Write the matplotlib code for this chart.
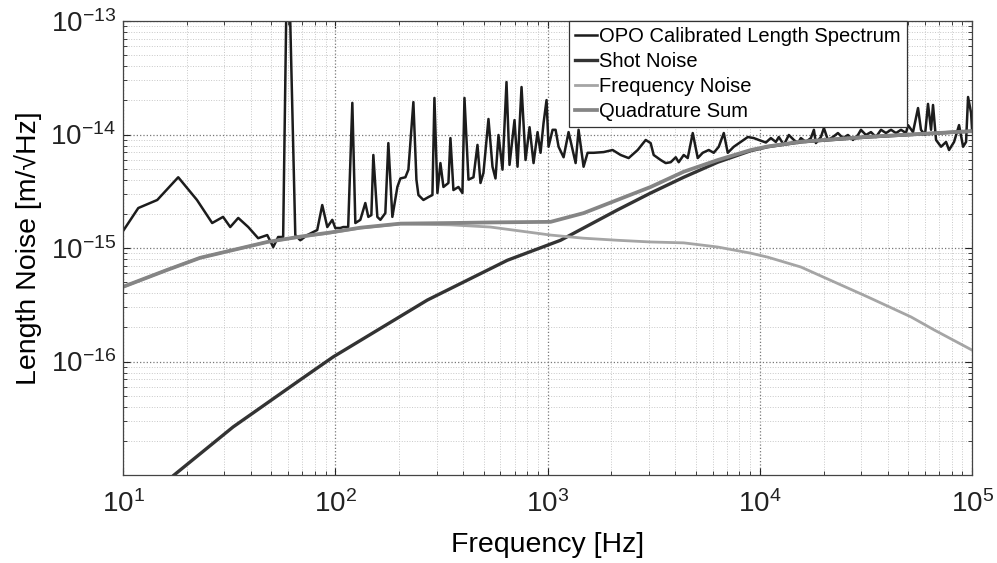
import numpy as np
import matplotlib
matplotlib.use('Agg')
import matplotlib.pyplot as plt
from matplotlib.ticker import LogLocator, NullFormatter, LogFormatterMathtext

plt.rcParams['font.family'] = ['Liberation Sans', 'DejaVu Sans']
plt.rcParams['mathtext.default'] = 'regular'

# ── data (Hz, m/sqrt(Hz)) ────────────────────────────────────────────────────
spec_f = [10.0, 11.8, 14.5, 18.2, 22.3, 26.3, 29.6, 32.0, 34.9, 38.9, 43.3, 47.8,
          51.0, 53.8, 56.8, 58.7, 61.3, 64.8, 68.4, 73.8, 82.2, 86.8, 91.7, 96.8,
          100, 105.6, 109, 115, 120.3, 124.3, 131.2, 138.5, 143.1, 147.9, 151.1,
          157.8, 163.1, 172.1, 177.8, 185.7, 196.1, 202.6, 213.9, 221, 233.3,
          241.1, 246.4, 260.1, 274.7, 286.8, 293.1, 302.8, 312.8, 323.2, 341.2,
          348.7, 360.2, 380.4, 397.2, 406, 424.1, 447.7, 467.6, 483.1, 499,
          526.8, 550.3, 568.5, 587.3, 613.4, 640.6, 661.9, 698.8, 722, 754.1,
          787.6, 822.6, 859.1, 897.2, 926.8, 957.4, 989.2, 1011, 1056, 1091,
          1127, 1190, 1256, 1356, 1400, 1478, 1544, 1648, 1837, 2026, 2210, 2410,
          2658, 2900, 3060, 3162, 3412, 3603, 3804, 4017, 4148, 4380, 4575, 4831,
          5100, 5383, 5746, 6067, 6406, 6765, 7063, 7541, 8136, 8778, 9369, 9892,
          10680, 11270, 11900, 12290, 12980, 13700, 14470, 15110, 15610, 16480,
          17400, 17980, 18370, 19400, 20040, 20930, 22100, 23330, 24640, 26010,
          27470, 29000, 29950, 31620, 33390, 35260, 37230, 39300, 41500, 43810,
          46260, 48830, 49900, 52690, 55640, 57450, 60020, 62000, 64070, 65460,
          67650, 71430, 75410, 77900, 82250, 86840, 90710, 93690, 95740, 98920,
          100000]
spec_v = [1.41e-15, 2.25e-15, 2.65e-15, 4.2e-15, 2.65e-15, 1.66e-15, 1.88e-15,
          1.53e-15, 1.84e-15, 1.53e-15, 1.22e-15, 1.30e-15, 1.02e-15, 1.25e-15,
          1.25e-15, 1.05e-13, 1.05e-13, 1.3e-15, 1.17e-15, 1.30e-15, 1.44e-15,
          2.39e-15, 1.53e-15, 1.77e-15, 1.50e-15, 1.50e-15, 1.53e-15, 1.53e-15,
          1.90e-14, 1.66e-15, 1.77e-15, 2.49e-15, 1.88e-15, 1.95e-15, 6.6e-15,
          1.88e-15, 1.77e-15, 2.03e-15, 8.4e-15, 1.88e-15, 3.45e-15, 4.1e-15,
          4.2e-15, 4.9e-15, 1.93e-14, 4.0e-15, 2.93e-15, 2.65e-15, 2.81e-15,
          2.93e-15, 2.10e-14, 3.05e-15, 5.6e-15, 3.45e-15, 3.74e-15, 9.3e-15,
          3.24e-15, 3.45e-15, 3.05e-15, 2.10e-14, 4.0e-15, 4.2e-15, 8.1e-15,
          3.74e-15, 4.6e-15, 1.37e-14, 5.2e-15, 4.1e-15, 9.9e-15, 4.9e-15,
          2.90e-14, 5.4e-15, 1.34e-14, 5.2e-15, 2.62e-14, 5.96e-15, 1.16e-14,
          5.6e-15, 1.05e-14, 6.9e-15, 1.26e-14, 2.01e-14, 7.8e-15, 1.10e-14,
          1.10e-14, 7.8e-15, 6.3e-15, 1.05e-14, 5.6e-15, 1.10e-14, 5.2e-15,
          6.9e-15, 6.9e-15, 7.0e-15, 7.3e-15, 6.6e-15, 6.2e-15, 7.3e-15, 8.95e-15,
          8.4e-15, 6.6e-15, 5.96e-15, 5.6e-15, 5.7e-15, 6.3e-15, 5.7e-15, 6.6e-15,
          6.2e-15, 1.03e-14, 6.2e-15, 6.9e-15, 7.3e-15, 6.9e-15, 7.8e-15, 1.03e-14,
          6.9e-15, 7.8e-15, 8.6e-15, 9.5e-15, 9.3e-15, 8.95e-15, 8.5e-15, 9.3e-15,
          8.6e-15, 9.5e-15, 8.1e-15, 9.9e-15, 8.95e-15, 8.4e-15, 9.3e-15, 8.6e-15,
          9.3e-15, 1.10e-14, 8.4e-15, 9.5e-15, 1.14e-14, 8.95e-15, 9.5e-15,
          1.03e-14, 9.3e-15, 9.9e-15, 8.95e-15, 9.9e-15, 1.10e-14, 9.9e-15,
          1.05e-14, 9.5e-15, 1.10e-14, 1.03e-14, 1.10e-14, 1.03e-14, 1.10e-14,
          1.03e-14, 1.21e-14, 1.05e-14, 1.71e-14, 1.10e-14, 9.9e-15, 1.86e-14,
          1.10e-14, 1.82e-14, 8.95e-15, 7.8e-15, 8.6e-15, 7.3e-15, 8.6e-15,
          1.21e-14, 7.8e-15, 8.6e-15, 2.14e-14, 1.55e-14, 1.10e-14]

shot_f = [17.4, 33.0, 68.4, 97.9, 271.6, 647, 1152, 2130, 3060, 4380, 6338,
          9070, 10910, 15610, 32310, 100000]
shot_v = [1.0e-17, 2.65e-17, 6.9e-17, 1.10e-16, 3.48e-16, 7.8e-16, 1.17e-15,
          2.16e-15, 3.05e-15, 4.2e-15, 5.7e-15, 7.2e-15, 7.8e-15, 8.6e-15,
          9.5e-15, 1.07e-14]

freq_f = [10, 16.1, 23.1, 33.0, 47.8, 68.4, 94.7, 131.2, 202.6, 348.7, 538,
          1034, 1478, 2130, 3060, 4380, 6338, 9070, 10910, 15610, 32310, 51570,
          66190, 100000]
freq_v = [4.53e-16, 6.4e-16, 8.2e-16, 9.6e-16, 1.13e-15, 1.25e-15, 1.36e-15,
          1.50e-15, 1.63e-15, 1.60e-15, 1.53e-15, 1.30e-15, 1.22e-15, 1.17e-15,
          1.13e-15, 1.11e-15, 1.02e-15, 9.0e-16, 8.3e-16, 6.8e-16, 3.7e-16,
          2.47e-16, 1.90e-16, 1.26e-16]

quad_f = [10, 16.1, 23.1, 33.0, 47.8, 68.4, 94.7, 131.2, 202.6, 348.7, 538,
          1034, 1478, 2130, 3060, 4380, 6338, 9070, 10910, 15610, 32310, 100000]
quad_v = [4.55e-16, 6.4e-16, 8.2e-16, 9.6e-16, 1.13e-15, 1.26e-15, 1.37e-15,
          1.51e-15, 1.64e-15, 1.66e-15, 1.68e-15, 1.70e-15, 2.03e-15, 2.65e-15,
          3.45e-15, 4.7e-15, 5.96e-15, 7.3e-15, 7.85e-15, 8.65e-15, 9.55e-15,
          1.07e-14]

# ── plot ─────────────────────────────────────────────────────────────────────
fig = plt.figure(figsize=(9.97, 5.63), dpi=100)
ax = fig.add_axes([0.1234, 0.1563, 0.8516, 0.8064])

ax.loglog(spec_f, spec_v, color='#1c1c1c', lw=1.8, label='OPO Calibrated Length Spectrum')
ax.loglog(shot_f, shot_v, color='#333333', lw=2.4, label='Shot Noise')
ax.loglog(freq_f, freq_v, color='#a5a5a5', lw=2.0, label='Frequency Noise')
ax.loglog(quad_f, quad_v, color='#858585', lw=2.7, label='Quadrature Sum')

ax.set_xlim(10, 1e5)
ax.set_ylim(1e-17, 1e-13)
ax.set_xticks([1e1, 1e2, 1e3, 1e4, 1e5])
ax.set_yticks([1e-16, 1e-15, 1e-14, 1e-13])
ax.xaxis.set_major_formatter(LogFormatterMathtext())
ax.yaxis.set_major_formatter(LogFormatterMathtext())
ax.xaxis.set_minor_locator(LogLocator(base=10, subs=np.arange(2, 10)))
ax.yaxis.set_minor_locator(LogLocator(base=10, subs=np.arange(2, 10)))
ax.xaxis.set_minor_formatter(NullFormatter())
ax.yaxis.set_minor_formatter(NullFormatter())

ax.tick_params(which='both', direction='in', top=True, right=True, labelsize=20,
               colors='#222222')
ax.tick_params(axis='x', which='major', pad=11)
ax.tick_params(axis='y', which='major', pad=5)
ax.tick_params(which='major', length=5, width=0.8)
ax.tick_params(which='minor', length=3, width=0.6)
ax.grid(True, which='major', ls=':', color='#777777', lw=0.9)
ax.grid(True, which='minor', ls=':', color='#c8c8c8', lw=0.7)
for sp in ax.spines.values():
    sp.set_color('#444444')
    sp.set_linewidth(0.9)

ax.set_xlabel('Frequency [Hz]', fontsize=20.5, labelpad=10)
ax.set_ylabel('Length Noise [m/√Hz]', fontsize=20.5, labelpad=6)

leg = ax.legend(loc='upper right', bbox_to_anchor=(0.9234, 1.0), borderaxespad=0,
                fontsize=14.5, fancybox=False, framealpha=1, edgecolor='#333333',
                handlelength=1.1, handletextpad=0.1, labelspacing=0.3,
                borderpad=0.3)
leg.get_frame().set_linewidth(0.9)

plt.savefig('out.png', dpi=100)
plt.close()
